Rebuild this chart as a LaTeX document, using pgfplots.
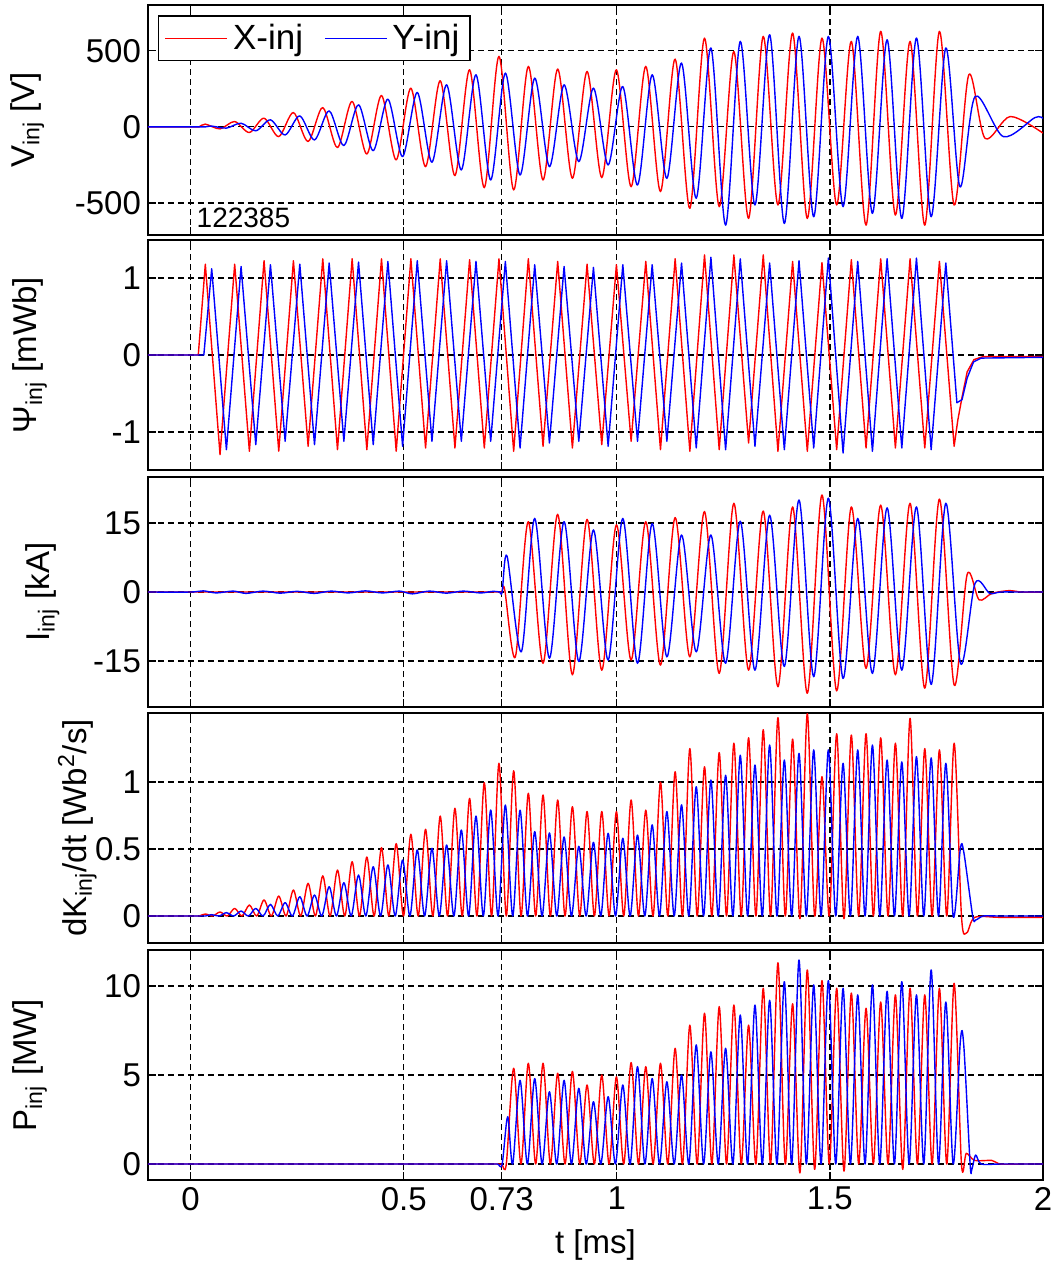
\documentclass[border=0pt]{standalone}
\usepackage{fontspec}
\setmainfont{Liberation Sans}
\usepackage{pgfplots}
\pgfplotsset{compat=1.18}
\newcommand{\fs}{\fontsize{16.5}{19}\selectfont}
\pgfplotsset{panel/.style={
  scale only axis, width=447.5pt, height=115pt,
  xmin=-0.1, xmax=2,
  xtick={0,0.5,0.73,1,1.5,2}, xticklabels={},
  grid=major,
  major grid style={black, line width=0.6pt, dash pattern=on 3pt off 2pt},
  axis line style={black, line width=0.8pt},
  tick align=inside, major tick length=4pt,
  tick style={black, line width=0.6pt},
  tick label style={font=\fs},
  label style={font=\fs},
  every axis plot/.append style={line width=0.7pt, line join=round},
  /pgf/number format/assume math mode=true,
  anchor=south west,
}}
\begin{document}
\begin{tikzpicture}
\useasboundingbox (-74pt,-633pt) rectangle (455pt,0pt);
% ---------- Panel 1: V_inj ----------
\begin{axis}[panel, at={(0pt,-117.5pt)},
  ymin=-710, ymax=800, ytick={-500,0,500}, yticklabels={-500,0,500},
  ylabel={V\textsubscript{inj} [V]},
  ylabel style={at={(axis description cs:-0.135,0.5)},anchor=center},
  legend columns=2,
  legend style={at={(axis description cs:0.011,0.955)}, anchor=north west, draw=black, line width=0.8pt, fill=white, font=\fontsize{17.5}{19}\selectfont, inner xsep=3pt, inner ysep=1.5pt, nodes={inner sep=2.5pt}, /tikz/every even column/.append style={column sep=8pt}},
  legend image code/.code={\draw[#1, line width=0.7pt] (0pt,0pt) -- (31pt,0pt);},
]
\addplot[red, smooth] coordinates {(-0.1,0) (0.0,0) (0.01,0) (0.02,0) (0.0345,18) (0.0690,-13) (0.1034,35) (0.1379,-37) (0.1723,57) (0.2068,-64) (0.2412,94) (0.2757,-96) (0.3101,127) (0.3446,-136) (0.3790,167) (0.4135,-178) (0.4479,206) (0.4824,-217) (0.5168,254) (0.5513,-261) (0.5857,303) (0.6202,-320) (0.6546,375) (0.6891,-399) (0.7235,463) (0.7580,-414) (0.7924,397) (0.8269,-349) (0.8613,380) (0.8958,-338) (0.9302,364) (0.9647,-333) (0.9991,375) (1.0336,-393) (1.0680,397) (1.1025,-425) (1.1369,445) (1.1714,-535) (1.2058,583) (1.2403,-524) (1.2747,495) (1.3092,-601) (1.3436,594) (1.3781,-513) (1.4125,616) (1.4470,-601) (1.4814,583) (1.5159,-513) (1.5503,561) (1.5848,-645) (1.6192,627) (1.6537,-579) (1.6881,561) (1.7226,-645) (1.7570,627) (1.7915,-513) (1.8259,342) (1.8640,-75) (1.9230,68) (2.0,-41)};
\addlegendentry{X-inj}
\addplot[blue, smooth] coordinates {(-0.1,0) (0.0,0) (0.025,0) (0.035,0) (0.0495,5) (0.0840,-8) (0.1184,24) (0.1529,-26) (0.1873,46) (0.2218,-53) (0.2562,72) (0.2907,-86) (0.3251,105) (0.3596,-123) (0.3940,145) (0.4285,-156) (0.4629,182) (0.4974,-195) (0.5318,226) (0.5663,-232) (0.6007,276) (0.6352,-283) (0.6696,342) (0.7041,-349) (0.7385,353) (0.7730,-316) (0.8074,320) (0.8419,-261) (0.8763,276) (0.9108,-228) (0.9452,254) (0.9797,-250) (1.0141,265) (1.0486,-382) (1.0830,342) (1.1175,-338) (1.1519,419) (1.1864,-469) (1.2208,518) (1.2553,-645) (1.2897,561) (1.3242,-513) (1.3586,605) (1.3931,-634) (1.4275,594) (1.4620,-590) (1.4964,594) (1.5309,-524) (1.5653,594) (1.5998,-568) (1.6342,572) (1.6687,-601) (1.7031,583) (1.7376,-590) (1.7720,518) (1.8050,-393) (1.8406,199) (1.9070,-64) (1.9810,61) (2.0,55)};
\addlegendentry{Y-inj}
\node[anchor=west, font=\fontsize{14}{16}\selectfont, inner sep=0pt] at (axis description cs:0.054,0.074) {122385};
\end{axis}
% ---------- Panel 2: Psi_inj ----------
\begin{axis}[panel, at={(0pt,-235pt)},
  ymin=-1.494, ymax=1.494, ytick={-1,0,1}, yticklabels={-1,0,1},
  ylabel={Ψ\textsubscript{inj} [mWb]},
  ylabel style={at={(axis description cs:-0.132,0.5)},anchor=center},
]
\addplot[red] coordinates {(-0.1,0) (0.018,0) (0.0345,1.18) (0.0690,-1.294) (0.1034,1.18) (0.1379,-1.25) (0.1723,1.225) (0.2068,-1.25) (0.2412,1.225) (0.2757,-1.186) (0.3101,1.25) (0.3446,-1.23) (0.3790,1.25) (0.4135,-1.23) (0.4479,1.25) (0.4824,-1.25) (0.5168,1.25) (0.5513,-1.208) (0.5857,1.25) (0.6202,-1.208) (0.6546,1.238) (0.6891,-1.208) (0.7235,1.25) (0.7580,-1.251) (0.7924,1.25) (0.8269,-1.186) (0.8613,1.216) (0.8958,-1.208) (0.9302,1.18) (0.9647,-1.165) (0.9991,1.173) (1.0336,-1.121) (1.0680,1.216) (1.1025,-1.23) (1.1369,1.25) (1.1714,-1.251) (1.2058,1.30) (1.2403,-1.23) (1.2747,1.30) (1.3092,-1.143) (1.3436,1.30) (1.3781,-1.251) (1.4125,1.216) (1.4470,-1.251) (1.4814,1.20) (1.5159,-1.23) (1.5503,1.238) (1.5848,-1.208) (1.6192,1.25) (1.6537,-1.208) (1.6881,1.25) (1.7226,-1.208) (1.7570,1.216) (1.7915,-1.186) (1.8000,-0.85) (1.8100,-0.55) (1.8220,-0.22) (1.8380,-0.06) (1.8600,-0.02) (2.0,-0.02)};
\addplot[blue] coordinates {(-0.1,0) (0.031,0) (0.0495,1.121) (0.0840,-1.23) (0.1184,1.15) (0.1529,-1.165) (0.1873,1.173) (0.2218,-1.121) (0.2562,1.18) (0.2907,-1.165) (0.3251,1.195) (0.3596,-1.121) (0.3940,1.208) (0.4285,-1.165) (0.4629,1.216) (0.4974,-1.186) (0.5318,1.225) (0.5663,-1.121) (0.6007,1.225) (0.6352,-1.121) (0.6696,1.216) (0.7041,-1.121) (0.7385,1.216) (0.7730,-1.208) (0.8074,1.173) (0.8419,-1.143) (0.8763,1.15) (0.9108,-1.121) (0.9452,1.138) (0.9797,-1.186) (1.0141,1.173) (1.0486,-1.121) (1.0830,1.173) (1.1175,-1.121) (1.1519,1.195) (1.1864,-1.208) (1.2208,1.27) (1.2553,-1.23) (1.2897,1.25) (1.3242,-1.186) (1.3586,1.195) (1.3931,-1.23) (1.4275,1.225) (1.4620,-1.208) (1.4964,1.26) (1.5309,-1.273) (1.5653,1.216) (1.5998,-1.251) (1.6342,1.25) (1.6687,-1.208) (1.7031,1.26) (1.7376,-1.23) (1.7720,1.195) (1.7980,-0.62) (1.8100,-0.58) (1.8220,-0.3) (1.8370,-0.09) (1.8550,-0.04) (2.0,-0.03)};
\end{axis}
% ---------- Panel 3: I_inj ----------
\begin{axis}[panel, at={(0pt,-353.5pt)},
  ymin=-25, ymax=25, ytick={-15,0,15}, yticklabels={-15,0,15},
  ylabel={I\textsubscript{inj} [kA]},
  ylabel style={at={(axis description cs:-0.118,0.5)},anchor=center},
]
\addplot[red, smooth] coordinates {(-0.1,0) (0.3,0) (0.6,0) (0.70,0) (0.72,0) (0.73,0) (0.737,0.5) (0.7620,-14.1) (0.7924,15.3) (0.8269,-15.5) (0.8613,16.9) (0.8958,-18.0) (0.9302,15.8) (0.9647,-17.0) (0.9991,14.6) (1.0336,-14.8) (1.0680,15.3) (1.1025,-15.9) (1.1369,16.2) (1.1714,-14.1) (1.2058,17.5) (1.2403,-17.7) (1.2747,19.3) (1.3092,-17.0) (1.3436,17.6) (1.3781,-20.6) (1.4125,18.5) (1.4470,-22.0) (1.4814,21.1) (1.5159,-21.5) (1.5503,18.5) (1.5848,-16.6) (1.6192,18.9) (1.6537,-18.0) (1.6881,19.3) (1.7226,-20.9) (1.7570,20.2) (1.7915,-20.2) (1.8220,3.8) (1.8500,-1.7) (1.8800,-0.3) (1.9200,0.3) (1.95,0) (2.0,0)};
\addplot[blue, smooth] coordinates {(-0.1,0) (0.0,0) (0.03,0.25) (0.06,-0.2) (0.1,0.2) (0.13,-0.3) (0.17,0.2) (0.21,-0.25) (0.25,0.15) (0.29,-0.3) (0.33,0.2) (0.37,-0.2) (0.41,0.25) (0.45,-0.2) (0.49,0.2) (0.52,-0.4) (0.56,0.2) (0.6,-0.25) (0.64,0.2) (0.68,-0.2) (0.71,0.15) (0.725,0) (0.731,0) (0.7425,7.8) (0.7760,-13.0) (0.8074,16.0) (0.8419,-14.4) (0.8763,15.3) (0.9108,-15.1) (0.9452,13.5) (0.9797,-14.8) (1.0141,16.0) (1.0486,-15.5) (1.0830,14.9) (1.1175,-14.1) (1.1519,12.4) (1.1864,-13.0) (1.2208,12.4) (1.2553,-15.5) (1.2897,15.4) (1.3242,-17.0) (1.3586,16.7) (1.3931,-16.2) (1.4275,20.0) (1.4620,-18.4) (1.4964,20.4) (1.5309,-18.8) (1.5653,16.0) (1.5998,-17.7) (1.6342,18.3) (1.6687,-17.0) (1.7031,18.5) (1.7376,-20.1) (1.7720,19.3) (1.8065,-15.5) (1.8406,1.9) (1.8750,-0.3) (1.9000,0) (1.95,0) (2.0,0)};
\end{axis}
% ---------- Panel 4: dK_inj/dt ----------
\begin{axis}[panel, at={(0pt,-471.5pt)},
  ymin=-0.2015, ymax=1.515, ytick={0,0.5,1}, yticklabels={0,0.5,1},
  ylabel={dK\textsubscript{inj}/dt [Wb\textsuperscript{2}/s]},
  ylabel style={at={(axis description cs:-0.079,0.5)},anchor=center},
]
\addplot[red, smooth] coordinates {(-0.1,0) (0.0,0) (0.01,0) (0.02,0) (0.0345,0.015) (0.0517,0) (0.0690,0.03) (0.0862,0) (0.1034,0.057) (0.1206,0) (0.1379,0.082) (0.1551,0) (0.1723,0.12) (0.1895,0) (0.2068,0.149) (0.2240,0) (0.2412,0.194) (0.2584,0) (0.2757,0.244) (0.2929,0) (0.3101,0.30) (0.3273,0) (0.3446,0.343) (0.3618,0) (0.3790,0.405) (0.3962,0) (0.4135,0.44) (0.4307,0) (0.4479,0.51) (0.4651,0) (0.4824,0.54) (0.4996,0) (0.5168,0.61) (0.5340,0) (0.5513,0.647) (0.5685,0) (0.5857,0.746) (0.6029,0) (0.6202,0.804) (0.6374,0) (0.6546,0.878) (0.6718,0) (0.6891,0.995) (0.7063,0) (0.7235,1.14) (0.7407,0) (0.7580,1.084) (0.7752,0) (0.7924,0.916) (0.8096,0) (0.8269,0.903) (0.8441,0) (0.8613,0.866) (0.8785,0) (0.8958,0.816) (0.9130,0) (0.9302,0.78) (0.9474,0) (0.9647,0.78) (0.9819,0) (0.9991,0.78) (1.0163,0) (1.0336,0.866) (1.0508,0) (1.0680,0.79) (1.0852,0) (1.1025,1.0) (1.1197,0) (1.1369,1.077) (1.1541,0) (1.1714,1.25) (1.1886,0) (1.2058,1.114) (1.2230,0) (1.2403,1.22) (1.2575,0) (1.2747,1.29) (1.2919,0) (1.3092,1.33) (1.3264,0) (1.3436,1.39) (1.3608,0) (1.3781,1.48) (1.3953,0) (1.4125,1.32) (1.4297,-0.02) (1.4470,1.51) (1.4642,0) (1.4814,1.04) (1.4986,0) (1.5159,1.36) (1.5331,-0.02) (1.5503,1.35) (1.5675,0) (1.5848,1.36) (1.6020,0) (1.6192,1.33) (1.6364,0) (1.6537,1.29) (1.6709,0) (1.6881,1.475) (1.7053,0) (1.7226,1.25) (1.7398,0) (1.7570,1.24) (1.7742,0) (1.7915,1.29) (1.8087,0) (1.8210,-0.125) (1.8400,-0.01) (1.9,-0.01) (2.0,-0.01)};
\addplot[blue, smooth] coordinates {(-0.1,0) (0.0,0) (0.025,0) (0.035,0) (0.0495,0.01) (0.0667,0) (0.0840,0.025) (0.1012,0) (0.1184,0.037) (0.1356,0) (0.1529,0.057) (0.1701,0) (0.1873,0.087) (0.2045,0) (0.2218,0.10) (0.2390,0) (0.2562,0.144) (0.2734,0) (0.2907,0.157) (0.3079,0) (0.3251,0.219) (0.3423,0) (0.3596,0.249) (0.3768,0) (0.3940,0.306) (0.4112,0) (0.4285,0.368) (0.4457,0) (0.4629,0.381) (0.4801,0) (0.4974,0.418) (0.5146,0) (0.5318,0.493) (0.5490,0) (0.5663,0.505) (0.5835,0) (0.6007,0.53) (0.6179,0) (0.6352,0.642) (0.6524,0) (0.6696,0.746) (0.6868,0) (0.7041,0.791) (0.7213,0) (0.7385,0.828) (0.7557,0) (0.7730,0.79) (0.7902,0) (0.8074,0.63) (0.8246,0) (0.8419,0.62) (0.8591,0) (0.8763,0.59) (0.8935,0) (0.9108,0.52) (0.9280,0) (0.9452,0.55) (0.9624,0) (0.9797,0.617) (0.9969,0) (1.0141,0.58) (1.0313,0) (1.0486,0.604) (1.0658,0) (1.0830,0.68) (1.1002,0) (1.1175,0.78) (1.1347,0) (1.1519,0.83) (1.1691,0) (1.1864,0.965) (1.2036,0) (1.2208,1.015) (1.2380,0) (1.2553,1.05) (1.2725,0) (1.2897,1.2) (1.3069,0) (1.3242,1.127) (1.3414,0) (1.3586,1.276) (1.3758,0) (1.3931,1.164) (1.4103,0) (1.4275,1.214) (1.4447,0) (1.4620,1.24) (1.4792,0) (1.4964,1.24) (1.5136,0) (1.5309,1.14) (1.5481,0) (1.5653,1.24) (1.5825,0) (1.5998,1.276) (1.6170,0) (1.6342,1.164) (1.6514,0) (1.6687,1.15) (1.6859,0) (1.7031,1.19) (1.7203,0) (1.7376,1.18) (1.7548,0) (1.7720,1.14) (1.7892,0) (1.8060,0.5) (1.8140,0.48) (1.8350,0) (1.8420,-0.03) (1.8600,0) (1.9,0) (2.0,0)};
\end{axis}
% ---------- Panel 5: P_inj ----------
\begin{axis}[panel, at={(0pt,-590pt)},
  ymin=-0.899, ymax=12.02, ytick={0,5,10}, yticklabels={0,5,10},
  xticklabels={0,0.5,0.73,1,1.5,2},
  xlabel={t [ms]},
  xlabel style={at={(axis description cs:0.5,-0.283)},anchor=center},
  ylabel={P\textsubscript{inj} [MW]},
  ylabel style={at={(axis description cs:-0.132,0.5)},anchor=center},
]
\addplot[red, smooth] coordinates {(-0.1,0) (0.3,0) (0.6,0) (0.70,0) (0.72,0) (0.73,0) (0.7407,0) (0.7580,5.38) (0.7752,0) (0.7924,5.66) (0.8096,0) (0.8269,5.66) (0.8441,0) (0.8613,5.1) (0.8785,0) (0.8958,5.2) (0.9130,0) (0.9302,4.44) (0.9474,0) (0.9647,5.0) (0.9819,0) (0.9991,4.9) (1.0163,0) (1.0336,5.7) (1.0508,0) (1.0680,5.47) (1.0852,0) (1.1025,5.66) (1.1197,0) (1.1369,6.5) (1.1541,0) (1.1714,7.8) (1.1886,0) (1.2058,8.47) (1.2230,0) (1.2403,8.84) (1.2575,0) (1.2747,8.93) (1.2919,0) (1.3092,7.8) (1.3264,0) (1.3436,9.87) (1.3608,0) (1.3781,11.3) (1.3953,0) (1.4125,9.0) (1.4297,-0.5) (1.4470,10.9) (1.4642,-0.3) (1.4814,10.3) (1.4986,0) (1.5159,9.87) (1.5331,-0.4) (1.5503,9.6) (1.5675,0) (1.5848,8.75) (1.6020,0) (1.6192,9.1) (1.6364,0) (1.6537,9.5) (1.6709,-0.3) (1.6881,9.87) (1.7053,0) (1.7226,9.5) (1.7398,0) (1.7570,9.87) (1.7742,0) (1.7915,10.15) (1.8087,0) (1.8200,0.6) (1.8400,0.2) (1.8800,0.2) (1.9000,0) (1.95,0) (2.0,0)};
\addplot[blue, smooth] coordinates {(-0.1,0) (0.3,0) (0.6,0) (0.70,0) (0.72,0) (0.731,0) (0.7440,2.66) (0.7557,0) (0.7730,4.7) (0.7902,0) (0.8074,4.8) (0.8246,0) (0.8419,4.06) (0.8591,0) (0.8763,4.7) (0.8935,0) (0.9108,4.25) (0.9280,0) (0.9452,3.5) (0.9624,0) (0.9797,3.78) (0.9969,0) (1.0141,4.44) (1.0313,0) (1.0486,5.47) (1.0658,0) (1.0830,4.8) (1.1002,0) (1.1175,4.62) (1.1347,0) (1.1519,5.0) (1.1691,0) (1.1864,6.69) (1.2036,0) (1.2208,6.3) (1.2380,0) (1.2553,6.5) (1.2725,0) (1.2897,8.37) (1.3069,0) (1.3242,8.93) (1.3414,0) (1.3586,9.2) (1.3758,0) (1.3931,10.24) (1.4103,0) (1.4275,11.46) (1.4447,0) (1.4620,10.06) (1.4792,0) (1.4964,10.3) (1.5136,0) (1.5309,9.87) (1.5481,0) (1.5653,9.5) (1.5825,0) (1.5998,10.06) (1.6170,0) (1.6342,9.7) (1.6514,0) (1.6687,10.24) (1.6859,0) (1.7031,9.5) (1.7203,0) (1.7376,10.9) (1.7548,0) (1.7720,9.1) (1.7892,0) (1.8060,6.87) (1.8140,6.7) (1.8290,0) (1.8330,-0.3) (1.8420,0.5) (1.8550,0) (1.9,0) (2.0,0)};
\end{axis}
\end{tikzpicture}
\end{document}
